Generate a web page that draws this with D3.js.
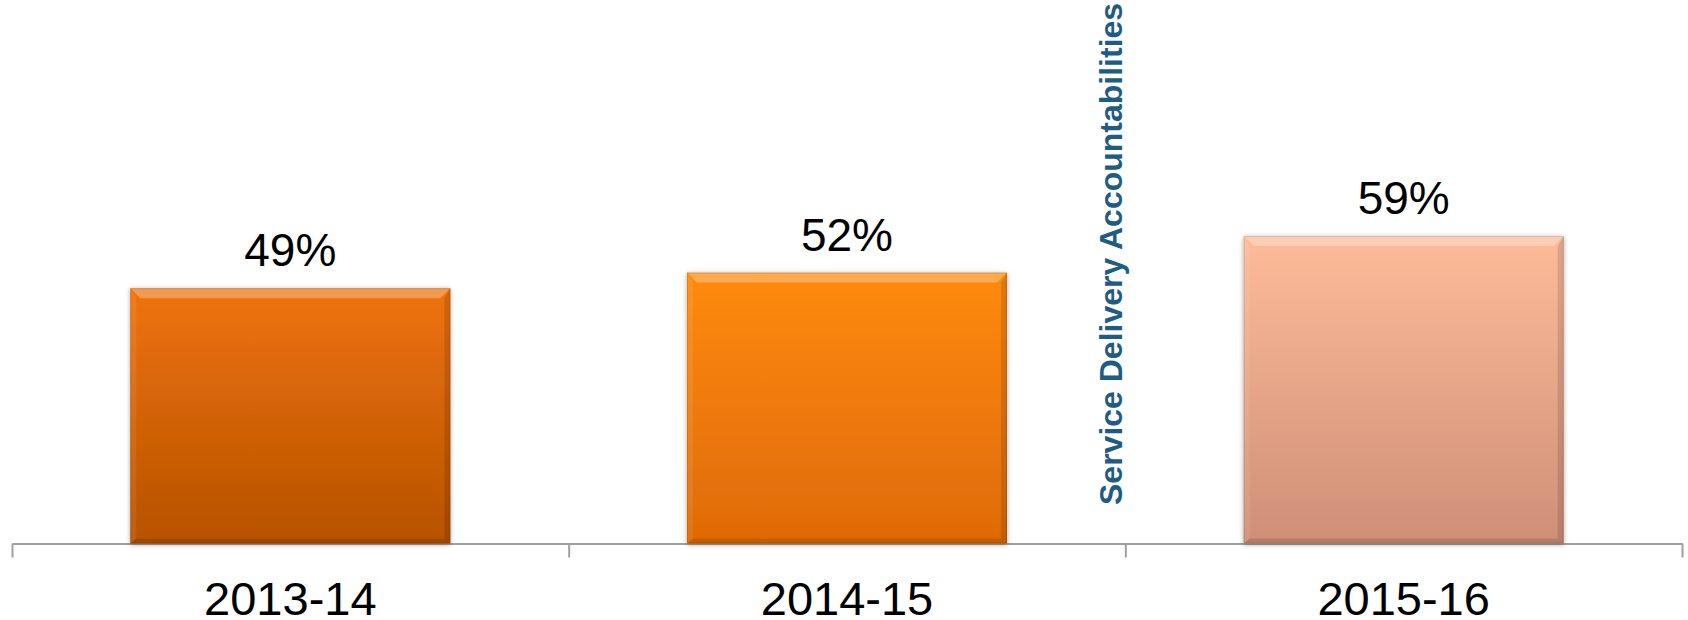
<!DOCTYPE html>
<html>
<head>
<meta charset="utf-8">
<script src="https://cdn.jsdelivr.net/npm/d3@7"></script>
<style>
  body { margin: 0; background: #fff; }
  svg { display: block; font-family: Arial, "Liberation Sans", sans-serif; }
</style>
</head>
<body>
<svg width="1688" height="620"></svg>
<script>
const years = ["2013-14", "2014-15", "2015-16"];
const values = [49, 52, 59];
// top / bottom colour of each bar
const topColors = ["#ef7309", "#ff8a0b", "#fdbb99"];
const bottomColors = ["#b65204", "#de6a06", "#cf8f77"];
const noteText = "Service Delivery Accountabilities";

const svg = d3.select("svg");
const left = 12, right = 1682, baseY = 543.5, topY = 22.5;

const x = d3.scaleBand().domain(years).range([left, right])
  .paddingInner(0.425).paddingOuter(0.2125);
const y = d3.scaleLinear().domain([0, 100]).range([baseY, topY]);
const edges = d3.scaleLinear().domain([0, years.length]).range([left, right]);

const defs = svg.append("defs");
years.forEach((yr, i) => {
  const g = defs.append("linearGradient").attr("id", "grad" + i)
    .attr("x1", 0).attr("y1", 0).attr("x2", 0).attr("y2", 1);
  g.append("stop").attr("offset", "0%").attr("stop-color", topColors[i]);
  g.append("stop").attr("offset", "100%").attr("stop-color", bottomColors[i]);
});
const f = defs.append("filter").attr("id", "shadow")
  .attr("x", "-5%").attr("y", "-5%").attr("width", "110%").attr("height", "110%");
f.append("feDropShadow").attr("dx", 0).attr("dy", 1).attr("stdDeviation", 2.5)
  .attr("flood-color", "#000").attr("flood-opacity", 0.35);

// axis with ticks between categories
svg.append("g")
  .attr("transform", `translate(0,${baseY})`)
  .call(d3.axisBottom(edges).tickValues(d3.range(years.length + 1)).tickFormat("").tickSize(14).tickSizeOuter(0))
  .call(g => g.selectAll("path,line").attr("stroke", "#a0a0a0").attr("stroke-width", 2));

const bars = svg.append("g").selectAll("g").data(years).join("g");
const bev = 10;
bars.each(function(yr, i) {
  const g = d3.select(this);
  const x0 = x(yr), x1 = x(yr) + x.bandwidth();
  const y0 = y(values[i]), y1 = y(0);
  g.append("rect").attr("x", x0).attr("y", y0)
    .attr("width", x.bandwidth()).attr("height", y1 - y0)
    .attr("fill", `url(#grad${i})`).attr("filter", "url(#shadow)");
  // bevel: top highlight
  g.append("path")
    .attr("d", `M${x0},${y0}L${x1},${y0}L${x1 - bev},${y0 + bev}L${x0 + bev},${y0 + bev}Z`)
    .attr("fill", "#fff").attr("opacity", 0.28);
  // bevel: left side
  g.append("path")
    .attr("d", `M${x0},${y0}L${x0 + bev * 0.6},${y0 + bev}L${x0 + bev * 0.6},${y1 - bev * 0.5}L${x0},${y1}Z`)
    .attr("fill", "#fff").attr("opacity", 0.08);
  // bevel: right side
  g.append("path")
    .attr("d", `M${x1},${y0}L${x1 - bev * 0.6},${y0 + bev}L${x1 - bev * 0.6},${y1 - bev * 0.5}L${x1},${y1}Z`)
    .attr("fill", "#000").attr("opacity", 0.12);
  // bevel: bottom
  g.append("path")
    .attr("d", `M${x0},${y1}L${x0 + bev * 0.6},${y1 - bev * 0.5}L${x1 - bev * 0.6},${y1 - bev * 0.5}L${x1},${y1}Z`)
    .attr("fill", "#000").attr("opacity", 0.12);
  g.append("rect").attr("x", x0 + 0.5).attr("y", y0 + 0.5)
    .attr("width", x.bandwidth() - 1).attr("height", y1 - y0 - 1)
    .attr("fill", "none").attr("stroke", "#000").attr("stroke-opacity", 0.12);
});

// value labels
svg.append("g").selectAll("text").data(years).join("text")
  .attr("x", d => x(d) + x.bandwidth() / 2)
  .attr("y", (d, i) => y(values[i]) - 22)
  .attr("text-anchor", "middle")
  .attr("font-size", 46)
  .attr("fill", "#000")
  .text((d, i) => values[i] + "%");

// category labels
svg.append("g").attr("transform", `translate(0,${baseY})`)
  .call(d3.axisBottom(x).tickSize(0).tickPadding(0))
  .call(g => g.select(".domain").remove())
  .call(g => g.selectAll("text")
    .attr("dy", null).attr("y", 71)
    .attr("font-size", 47).attr("fill", "#000")
    .attr("font-family", "Arial, 'Liberation Sans', sans-serif"));

// vertical note
svg.append("text")
  .attr("transform", `translate(1122,505) rotate(-90)`)
  .attr("font-size", 32)
  .attr("font-weight", "bold")
  .attr("fill", "#1f5c82")
  .text(noteText);
</script>
</body>
</html>
